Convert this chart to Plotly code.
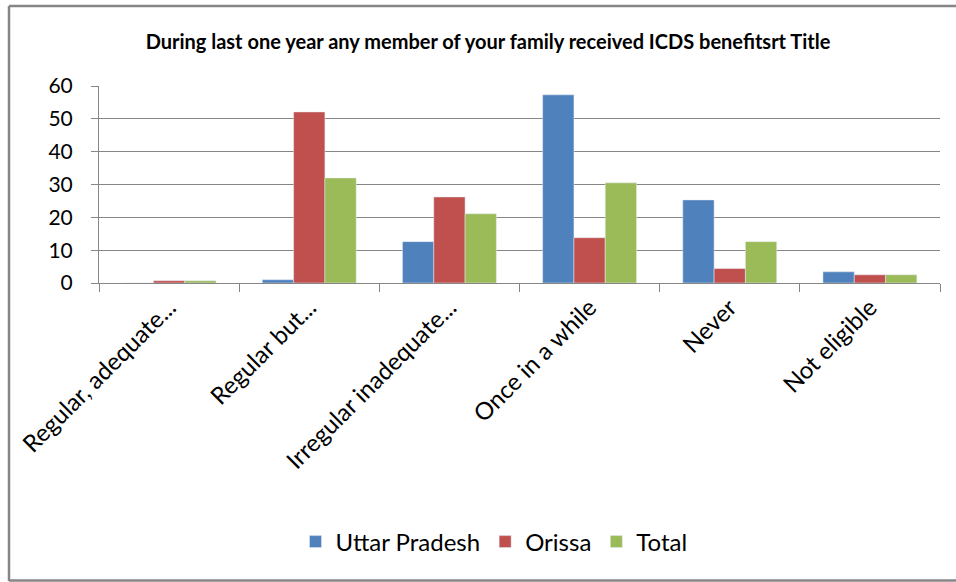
import plotly.graph_objects as go

categories = ["Regular, adequate...", "Regular but...", "Irregular inadequate...",
              "Once in a while", "Never", "Not eligible"]
uttar_pradesh = [0, 1.0, 12.6, 57.3, 25.3, 3.4]
orissa = [0.7, 52.1, 26.2, 13.8, 4.4, 2.5]
total = [0.7, 32.0, 21.1, 30.5, 12.6, 2.5]

W, H = 956, 582
L, T, PW, PH = 99, 86, 841, 197

fig = go.Figure()
fig.add_trace(go.Bar(x=categories, y=uttar_pradesh, name="Uttar Pradesh", marker_color="#4F81BD"))
fig.add_trace(go.Bar(x=categories, y=orissa, name="Orissa", marker_color="#C0504D"))
fig.add_trace(go.Bar(x=categories, y=total, name="Total", marker_color="#9BBB59"))

fig.update_layout(
    width=W, height=H,
    barmode="group", bargap=0.33, bargroupgap=0,
    paper_bgcolor="white", plot_bgcolor="white",
    font=dict(family="Lato, Open Sans, sans-serif", color="black"),
    margin=dict(l=L, r=W - L - PW, t=T, b=H - T - PH, autoexpand=False),
    title=dict(text="<b>During last one year any member of your family received ICDS benefitsrt Title</b>",
               x=488 / W, xanchor="center", y=1 - 42 / H, yanchor="middle",
               font=dict(size=20)),
    legend=dict(orientation="h", x=(494 - L) / PW, xanchor="center",
                y=(PH + T - 542) / PH, yanchor="middle",
                font=dict(size=24), traceorder="normal"),
    showlegend=True,
)
fig.update_xaxes(
    tickangle=-45, tickfont=dict(size=24),
    showline=True, linecolor="#868686", linewidth=1,
    ticks="outside", tickson="boundaries", ticklen=8, tickcolor="#868686",
    showgrid=False,
)
fig.update_yaxes(
    range=[0, 60], dtick=10, tickfont=dict(size=21),
    showline=True, linecolor="#868686", linewidth=1,
    ticks="outside", ticklen=7, tickcolor="#868686", ticklabelstandoff=14,
    showgrid=True, gridcolor="#868686", gridwidth=1,
    zeroline=False,
)

# outer chart frame: left, top and bottom edges (right side runs off the page)
def px_x(v):
    return (v - L) / PW

def px_y(v):
    return (T + PH - v) / PH

frame = dict(color="#868686", width=2.5)
fig.add_shape(type="line", xref="paper", yref="paper", x0=px_x(9), x1=px_x(9), y0=px_y(6), y1=px_y(581), line=frame)
fig.add_shape(type="line", xref="paper", yref="paper", x0=px_x(9), x1=px_x(W + 5), y0=px_y(6), y1=px_y(6), line=frame)
fig.add_shape(type="line", xref="paper", yref="paper", x0=px_x(9), x1=px_x(W + 5), y0=px_y(580.5), y1=px_y(580.5), line=frame)

fig.write_html("out.html", config={"displayModeBar": False},
               post_script="document.body.style.margin='0';document.body.style.overflow='hidden';")
